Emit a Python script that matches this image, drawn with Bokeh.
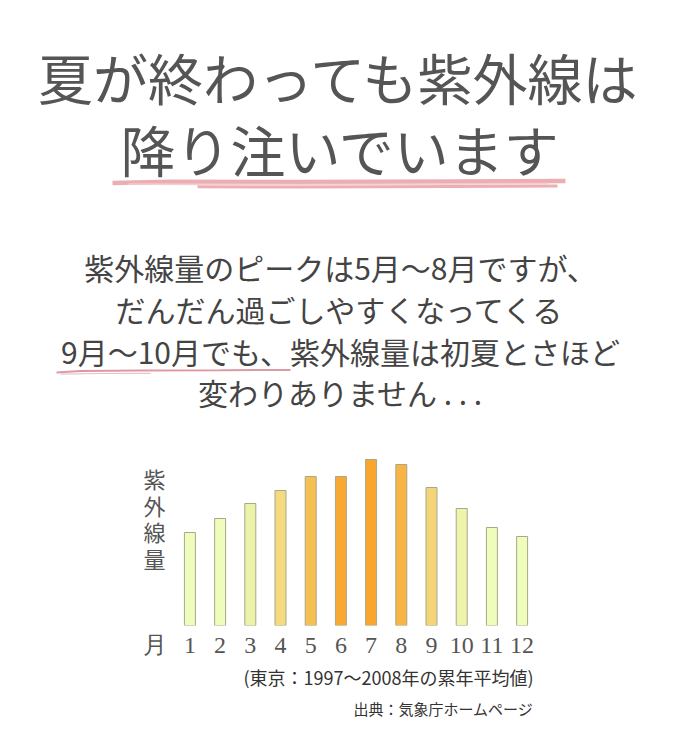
from bokeh.plotting import figure
from bokeh.models import Range1d, FixedTicker, ColumnDataSource
from bokeh.layouts import column
from bokeh.embed import file_html
from bokeh.resources import INLINE
from bokeh.core.properties import value

# ---------------- data ----------------
title_lines = ["夏が終わっても紫外線は", "降り注いでいます"]
body_lines = [
    "紫外線量のピークは5月～8月ですが、",
    "だんだん過ごしやすくなってくる",
    "9月～10月でも、紫外線量は初夏とさほど",
    "変わりありません . . .",
]
months = [1, 2, 3, 4, 5, 6, 7, 8, 9, 10, 11, 12]
month_labels = ["1", "2", "3", "4", "5", "6", "7", "8", "9", "10", "11", "12"]
uv_values = [93, 107, 122, 135, 149, 149, 166, 161, 138, 117, 98, 89]
y_label = "紫外線量"
x_label = "月"
note_lines = ["(東京：1997～2008年の累年平均値)", "出典：気象庁ホームページ"]

# ---------------- styles ----------------
bar_colors = ["#eefcbc", "#eefcbc", "#eaf3a8", "#f4da80", "#f6bf52", "#f9a832",
              "#f9a62e", "#f8b545", "#f3d478", "#eef4ac", "#eefcbc", "#eefcbc"]
CJK = value("Noto Sans CJK JP")
W = 664


def blank(fig):
    fig.xgrid.visible = False
    fig.ygrid.visible = False
    fig.outline_line_color = None
    fig.background_fill_color = "white"
    fig.border_fill_color = "white"
    return fig


# ---------------- header ----------------
HH = 440
head = figure(width=W, height=HH, x_range=Range1d(0, W), y_range=Range1d(HH, 0),
              x_axis_location=None, y_axis_location=None, toolbar_location=None,
              output_backend="svg", min_border=0)
blank(head)

head.text(x=[340, 340], y=[75.5, 147.5], text=title_lines, text_font=CJK,
          text_font_size="55px", text_color="#555555",
          text_align="center", text_baseline="middle")

# brush underline of the title
head.multi_line(xs=[[112, 170, 300, 450, 565], [197, 300, 450, 557]],
                ys=[[182.5, 181.2, 181.6, 181.0, 180.6], [186.2, 186.6, 186.0, 185.6]],
                line_color="#e8a0a6", line_width=[4.5, 3], line_alpha=0.85)
head.line(x=[128, 300, 548], y=[183.5, 184.2, 183.2], line_color="#f3c9cc",
          line_width=2, line_alpha=0.8)

head.text(x=[340] * 4, y=[266, 308, 350, 391], text=body_lines, text_font=CJK,
          text_font_size="30px", text_color="#444444",
          text_align="center", text_baseline="middle")

# hand-drawn underline below "9月～10月でも、"
head.line(x=[56, 80, 140, 220, 290], y=[372.0, 370.6, 370.0, 369.8, 369.4],
          line_color="#d98e99", line_width=2, line_alpha=0.9)
head.line(x=[60, 100, 150], y=[373.6, 373.0, 372.8],
          line_color="#e6b3ba", line_width=1.2, line_alpha=0.8)

# ---------------- chart ----------------
CH = 221
ylab_pos = -0.17
chart = figure(width=W, height=CH, x_range=Range1d(-5.272, 16.715), y_range=Range1d(0, 185),
               x_axis_location="below", y_axis_location=None, toolbar_location=None,
               output_backend="svg", min_border_left=0, min_border_right=0,
               min_border_top=0, min_border_bottom=36)
blank(chart)

src = ColumnDataSource(dict(month=months, uv=uv_values, color=bar_colors))
chart.vbar(x="month", top="uv", bottom=0, width=0.364, source=src,
           fill_color="color", line_color="#a9a88a", line_width=1)

chart.text(x=[ylab_pos], y=[107.5], text=["\n".join(y_label)], text_font=CJK,
           text_font_size="22px", text_color="#555555", text_line_height=0.84,
           text_align="center", text_baseline="middle")

ax = chart.xaxis[0]
ax.ticker = FixedTicker(ticks=[ylab_pos] + months, minor_ticks=[])
overrides = {m: lab for m, lab in zip(months, month_labels)}
overrides[ylab_pos] = x_label
ax.major_label_overrides = overrides
ax.axis_line_color = None
ax.major_tick_line_color = None
ax.minor_tick_line_color = None
ax.major_tick_in = 0
ax.major_tick_out = 0
ax.major_label_standoff = 6
ax.major_label_text_font = "Liberation Serif"
ax.major_label_text_font_size = "24px"
ax.major_label_text_color = "#555555"

# ---------------- footer ----------------
FH = 70
foot = figure(width=W, height=FH, x_range=Range1d(0, W), y_range=Range1d(FH, 0),
              x_axis_location=None, y_axis_location=None, toolbar_location=None,
              output_backend="svg", min_border=0)
blank(foot)
foot.text(x=[533], y=[15.5], text=[note_lines[0]], text_font=CJK, text_font_size="18px",
          text_color="#333333", text_align="right", text_baseline="middle")
foot.text(x=[533], y=[46.5], text=[note_lines[1]], text_font=CJK, text_font_size="15px",
          text_color="#333333", text_align="right", text_baseline="middle")

page = column(head, chart, foot, spacing=0)
open("out.html", "w").write(file_html(page, INLINE))
